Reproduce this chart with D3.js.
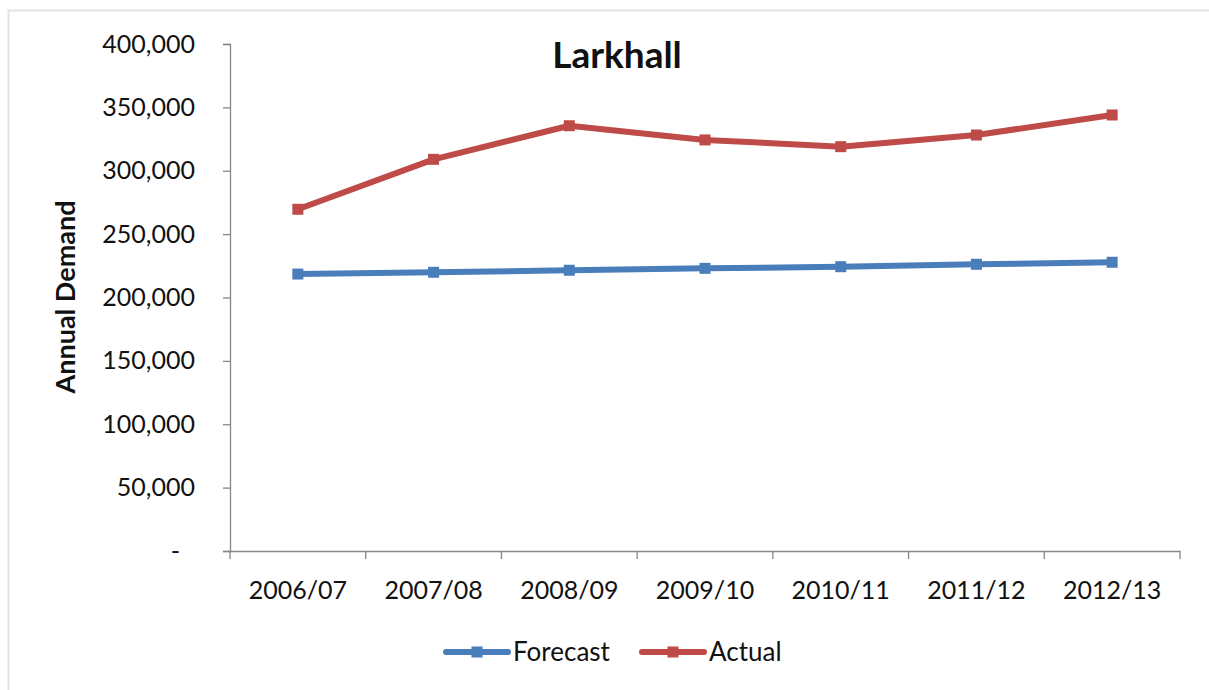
<!DOCTYPE html>
<html>
<head>
<meta charset="utf-8">
<script src="https://cdn.jsdelivr.net/npm/d3@7"></script>
<style>
  body { margin: 0; background: #fff; }
  text { font-family: Lato, "Open Sans", sans-serif; fill: #111; }
</style>
</head>
<body>
<div id="chart"></div>
<script>
// chart data
const years = ['2006/07', '2007/08', '2008/09', '2009/10', '2010/11', '2011/12', '2012/13'];
const forecast = [218500, 219900, 221500, 223000, 224300, 226200, 227800];
const actual = [269600, 309000, 335500, 324300, 319000, 328200, 344000];
const yTicks = [0, 50000, 100000, 150000, 200000, 250000, 300000, 350000, 400000];

const series = [
  {name: 'Forecast', values: forecast, color: '#4a7ebb'},
  {name: 'Actual', values: actual, color: '#be4b48'}
];

const W = 1209, H = 690;
const margin = {top: 44, right: 29, bottom: 139, left: 230};
const width = W - margin.left - margin.right;
const height = H - margin.top - margin.bottom;

const svg = d3.select('#chart').append('svg')
    .attr('width', W)
    .attr('height', H);

// faint chart-area border (top and left only visible)
svg.append('path')
    .attr('d', `M8.5,${H}V10.5H${W}`)
    .attr('fill', 'none')
    .attr('stroke', '#e3e3e3')
    .attr('stroke-width', 2);

const g = svg.append('g')
    .attr('transform', `translate(${margin.left},${margin.top})`);

const x = d3.scaleBand()
    .domain(years)
    .range([0, width]);

const y = d3.scaleLinear()
    .domain([0, 400000])
    .range([height, 0]);

const fmt = d => d === 0 ? '-' : d3.format(',')(d);

// y axis
g.append('g')
    .attr('class', 'y-axis')
    .call(d3.axisLeft(y).tickValues(yTicks).tickFormat(fmt).tickSize(7).tickPadding(28))
    .call(a => a.selectAll('path, line').attr('stroke', '#868686').attr('stroke-width', 1.3))
    .call(a => a.selectAll('text').attr('font-size', 25).style('fill', '#111'))
    .call(a => a.selectAll('.tick text').filter(d => d === 0).attr('dx', -15));

// x axis with ticks between categories
g.append('g')
    .attr('class', 'x-axis')
    .attr('transform', `translate(0,${height})`)
    .call(d3.axisBottom(x).tickSize(0))
    .call(a => a.select('.domain').attr('stroke', '#868686').attr('stroke-width', 1.3))
    .call(a => a.selectAll('text')
        .attr('font-size', 25)
        .attr('dy', null)
        .attr('y', 48)
        .style('fill', '#111'))
    .call(a => a.selectAll('.sep')
      .data(years.map(d => x(d)).concat([width]))
      .join('line')
        .attr('class', 'sep')
        .attr('x1', d => d).attr('x2', d => d)
        .attr('y1', 0).attr('y2', 8)
        .attr('stroke', '#868686').attr('stroke-width', 1.3));

const cx = d => x(d) + x.bandwidth() / 2;

const line = d3.line()
    .x((d, i) => cx(years[i]))
    .y(d => y(d));

const lines = g.append('g').attr('class', 'lines');

series.forEach(s => {
  lines.append('path')
      .attr('d', line(s.values))
      .attr('fill', 'none')
      .attr('stroke', s.color)
      .attr('stroke-width', 6)
      .attr('stroke-linejoin', 'round');

  lines.selectAll(null)
    .data(s.values)
    .join('rect')
      .attr('x', (d, i) => cx(years[i]) - 5.5)
      .attr('y', d => y(d) - 5.5)
      .attr('width', 11)
      .attr('height', 11)
      .attr('fill', s.color);
});

// title
svg.append('text')
    .attr('x', 617)
    .attr('y', 68)
    .attr('text-anchor', 'middle')
    .attr('font-size', 37)
    .attr('font-weight', 'bold')
    .text('Larkhall');

// y axis title
svg.append('text')
    .attr('transform', 'translate(75,297) rotate(-90)')
    .attr('text-anchor', 'middle')
    .attr('font-size', 27)
    .attr('font-weight', 'bold')
    .text('Annual Demand');

// legend
const legend = svg.append('g').attr('class', 'legend');
const legendX = [446, 642];
series.forEach((s, i) => {
  const lg = legend.append('g')
      .attr('transform', `translate(${legendX[i]},652)`);
  lg.append('line')
      .attr('x1', 0).attr('x2', 62)
      .attr('stroke', s.color)
      .attr('stroke-width', 6)
      .attr('stroke-linecap', 'round');
  lg.append('rect')
      .attr('x', 25.5).attr('y', -5.5)
      .attr('width', 11).attr('height', 11)
      .attr('fill', s.color);
  lg.append('text')
      .attr('x', 67)
      .attr('y', 9)
      .attr('font-size', 26)
      .text(s.name);
});
</script>
</body>
</html>
